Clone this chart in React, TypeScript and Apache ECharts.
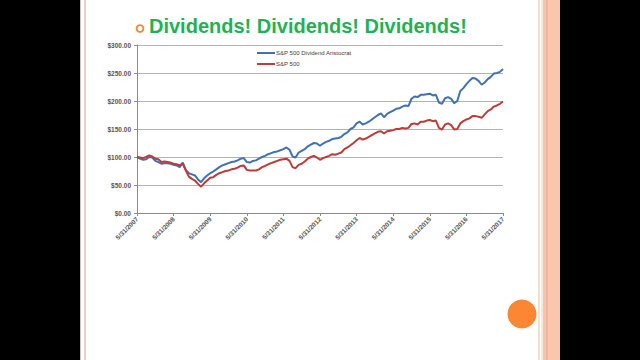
import React, { useEffect, useRef } from "react";
import * as echarts from "echarts";

const titleText = "Dividends! Dividends! Dividends!";
const seriesNames = ["S&P 500 Dividend Aristocrat", "S&P 500"];
const tickLabels = [
  "5/31/2007", "5/31/2008", "5/31/2009", "5/31/2010", "5/31/2011", "5/31/2012",
  "5/31/2013", "5/31/2014", "5/31/2015", "5/31/2016", "5/31/2017",
];

// Monthly values, May 2007 .. May 2017 (121 points)
const aristocrat = [
  100, 97, 95, 96, 100, 99, 93, 91, 88, 89, 89, 88,
  86, 85, 82, 90, 77, 71, 69, 67, 60, 55, 62, 67,
  71, 74, 78, 82, 85, 87, 89, 91, 92, 94, 97, 98,
  91, 90, 93, 94, 97, 100, 102, 105, 107, 109, 110, 112,
  114, 117, 113, 101, 99, 108, 111, 114, 119, 122, 125, 124,
  120, 124, 127, 129, 132, 133, 134, 136, 141, 144, 150, 153,
  160, 163, 158, 160, 163, 167, 171, 175, 178, 171, 177, 180,
  183, 186, 187, 190, 192, 191, 204, 208, 207, 211, 211, 212,
  213, 210, 211, 197, 195, 205, 207, 204, 196, 200, 218, 223,
  230, 236, 241, 240, 236, 229, 233, 239, 243, 249, 250, 252,
  257,
];

const sp500 = [
  100, 99, 98, 100, 103, 101, 97, 96, 91, 92, 91, 90,
  88, 87, 85, 88, 76, 65, 61, 58, 52, 47, 53, 58,
  63, 64, 68, 71, 73, 75, 76, 78, 79, 81, 84, 85,
  77, 76, 76, 76, 78, 82, 84, 87, 89, 91, 93, 95,
  96, 97, 93, 82, 80, 86, 88, 92, 97, 100, 102, 99,
  95, 98, 100, 102, 105, 104, 106, 108, 114, 117, 121, 125,
  130, 134, 131, 133, 136, 139, 142, 145, 146, 142, 146, 147,
  148, 150, 150, 152, 151, 152, 159, 160, 158, 163, 163, 165,
  166, 164, 165, 152, 149, 158, 160, 157, 149, 150, 160, 164,
  167, 169, 173, 173, 172, 170, 176, 182, 185, 190, 192, 195,
  199,
];

const BLUE = "#4070b6";
const RED = "#be3b38";

export default function App() {
  const ref = useRef<HTMLDivElement>(null);

  useEffect(() => {
    if (!ref.current) return;
    const chart = echarts.init(ref.current, null, { renderer: "svg" });
    chart.setOption({
      animation: false,
      backgroundColor: "#000000",
      graphic: [
        { type: "rect", z: -10, shape: { x: 80, y: 0, width: 480, height: 360 }, style: { fill: "#ffffff" } },
        { type: "rect", z: -9, shape: { x: 80, y: 0, width: 1, height: 360 }, style: { fill: "#c8c8c8" } },
        { type: "rect", z: -9, shape: { x: 84, y: 0, width: 2, height: 360 }, style: { fill: "#f5cdbd" } },
        { type: "rect", z: -9, shape: { x: 538, y: 0, width: 2, height: 360 }, style: { fill: "#f9dcd0" } },
        { type: "rect", z: -9, shape: { x: 541, y: 0, width: 2, height: 360 }, style: { fill: "#fbe6dd" } },
        { type: "rect", z: -9, shape: { x: 543, y: 0, width: 3, height: 360 }, style: { fill: "#f7c3ac" } },
        { type: "rect", z: -9, shape: { x: 546, y: 0, width: 2, height: 360 }, style: { fill: "#f0b59c" } },
        { type: "rect", z: -9, shape: { x: 548, y: 0, width: 12, height: 360 }, style: { fill: "#fbc6ae" } },
        {
          type: "circle", z: 10,
          shape: { cx: 140, cy: 28.5, r: 3.4 },
          style: { fill: "none", stroke: "#f58634", lineWidth: 1.8 },
        },
        {
          type: "text", z: 10, x: 149, y: 26,
          style: {
            text: titleText, fill: "#1fb254", font: "bold 20px 'Liberation Sans', Arial, sans-serif",
            verticalAlign: "middle", align: "left",
          },
        },
        {
          type: "circle", z: 10,
          shape: { cx: 522, cy: 314, r: 14.5 },
          style: { fill: "#fb8735" },
        },
      ],
      grid: { left: 137, right: 137, top: 45, bottom: 147 },
      legend: {
        orient: "vertical",
        left: 257,
        top: 50,
        padding: 0,
        itemWidth: 18,
        itemHeight: 2,
        itemGap: 5,
        icon: "rect",
        data: seriesNames,
        textStyle: { fontSize: 6, color: "#404040", fontFamily: "'Liberation Sans', Arial, sans-serif", padding: [0, 0, 0, -4] },
      },
      xAxis: {
        type: "value",
        min: 0,
        max: 120,
        interval: 12,
        axisLine: { lineStyle: { color: "#8c8c8c", width: 1 } },
        axisTick: { show: true, length: 3, lineStyle: { color: "#8c8c8c" } },
        splitLine: { show: false },
        axisLabel: {
          rotate: 45,
          margin: 5,
          fontSize: 6.5,
          color: "#555555",
          fontFamily: "'Liberation Sans', Arial, sans-serif",
          fontWeight: "bold",
          formatter: (v: number) => tickLabels[Math.round(v / 12)] ?? "",
        },
      },
      yAxis: {
        type: "value",
        min: 0,
        max: 300,
        interval: 50,
        axisLine: { show: true, lineStyle: { color: "#8c8c8c", width: 1 } },
        axisTick: { show: true, length: 3, lineStyle: { color: "#8c8c8c" } },
        splitLine: { show: true, lineStyle: { color: "#b4b4b4", width: 1.2 } },
        axisLabel: {
          margin: 6,
          fontSize: 6.5,
          color: "#555555",
          fontWeight: "bold",
          fontFamily: "'Liberation Sans', Arial, sans-serif",
          formatter: (v: number) => "$" + v.toFixed(2),
        },
      },
      series: [
        {
          name: seriesNames[0],
          type: "line",
          showSymbol: false,
          data: aristocrat.map((v, i) => [i, v]),
          lineStyle: { color: BLUE, width: 2 },
          itemStyle: { color: BLUE },
        },
        {
          name: seriesNames[1],
          type: "line",
          showSymbol: false,
          data: sp500.map((v, i) => [i, v]),
          lineStyle: { color: RED, width: 2 },
          itemStyle: { color: RED },
        },
      ],
    });
    return () => chart.dispose();
  }, []);

  return (
    <div
      ref={ref}
      style={{ position: "absolute", left: 0, top: 0, width: 640, height: 360 }}
    />
  );
}
